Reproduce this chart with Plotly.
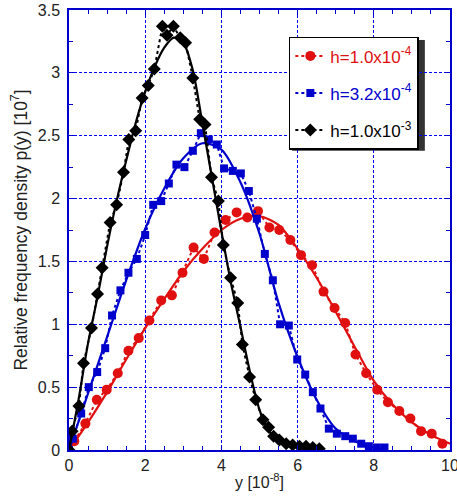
import plotly.graph_objects as go

# measured histograms (y in 1e-8, p in 1e7)
red_x = [0.14, 0.43, 0.73, 0.99, 1.28, 1.56, 1.83, 2.11, 2.42, 2.70, 2.98, 3.27, 3.54, 3.82, 4.11, 4.40, 4.68,
         4.96, 5.26, 5.52, 5.81, 6.09, 6.38, 6.68, 6.97, 7.25, 7.52, 7.80, 8.09, 8.37, 8.67, 8.96, 9.24, 9.52, 9.80]
red_y = [0.07, 0.21, 0.40, 0.48, 0.61, 0.79, 0.89, 1.03, 1.19, 1.23, 1.41, 1.61, 1.52, 1.73, 1.83, 1.89, 1.85,
         1.90, 1.77, 1.75, 1.67, 1.55, 1.47, 1.26, 1.13, 1.01, 0.76, 0.61, 0.48, 0.38, 0.31, 0.25, 0.15, 0.13, 0.05]

blue_x = [0.0, 0.10, 0.32, 0.52, 0.74, 0.95, 1.13, 1.35, 1.56, 1.78, 2.0, 2.21, 2.42, 2.62, 2.82, 3.03, 3.25,
          3.46, 3.67, 3.88, 4.07, 4.30, 4.51, 4.72, 4.93, 5.14, 5.35, 5.54, 5.77, 5.99, 6.20, 6.40, 6.60, 6.82,
          7.03, 7.25, 7.45, 7.67, 7.87, 8.08, 8.28]
blue_y = [0.0, 0.09, 0.29, 0.50, 0.62, 0.81, 1.07, 1.27, 1.41, 1.52, 1.71, 1.95, 1.98, 2.12, 2.27, 2.25, 2.38,
          2.52, 2.47, 2.43, 2.24, 2.22, 2.20, 2.06, 1.84, 1.56, 1.35, 1.00, 0.99, 0.72, 0.60, 0.46, 0.33, 0.17,
          0.13, 0.11, 0.09, 0.05, 0.03, 0.02, 0.02]

black_x = [0.0, 0.08, 0.26, 0.38, 0.59, 0.75, 0.87, 1.08, 1.25, 1.43, 1.57, 1.75, 1.92, 2.08, 2.24, 2.45, 2.57,
           2.74, 2.92, 3.06, 3.25, 3.43, 3.57, 3.74, 3.92, 4.05, 4.24, 4.43, 4.55, 4.74, 4.90, 5.09, 5.24, 5.37,
           5.52, 5.70, 5.87, 6.05, 6.22, 6.40, 6.57]
black_y = [0.0, 0.15, 0.35, 0.69, 0.97, 1.24, 1.45, 1.81, 1.95, 2.21, 2.47, 2.54, 2.80, 2.90, 3.03, 3.37, 3.30,
           3.37, 3.28, 3.24, 2.96, 2.63, 2.59, 2.17, 1.98, 1.63, 1.37, 1.17, 0.84, 0.58, 0.40, 0.24, 0.18, 0.11,
           0.08, 0.05, 0.04, 0.03, 0.03, 0.02, 0.01]

# fitted curves
red_fit_x = [0, 0.5, 1, 1.5, 2, 2.5, 3, 3.5, 4, 4.5, 5, 5.5, 6, 6.5, 7, 7.5, 8, 8.5, 9, 9.5, 10]
red_fit_y = [0, 0.22, 0.46, 0.72, 0.97, 1.2, 1.42, 1.6, 1.75, 1.84, 1.86, 1.79, 1.6, 1.37, 1.1, 0.82, 0.55,
             0.36, 0.22, 0.12, 0.05]
blue_fit_x = [0, 0.5, 1, 1.5, 2, 2.5, 3, 3.5, 4, 4.5, 5, 5.5, 6, 6.5, 7, 7.5, 8, 8.3]
blue_fit_y = [0, 0.45, 0.9, 1.35, 1.76, 2.08, 2.32, 2.44, 2.39, 2.13, 1.72, 1.17, 0.74, 0.4, 0.17, 0.07, 0.02, 0.01]
black_fit_x = [0, 0.25, 0.5, 0.75, 1, 1.25, 1.5, 1.75, 2, 2.25, 2.5, 2.75, 3, 3.25, 3.5, 3.75, 4, 4.25, 4.5,
               4.75, 5, 5.25, 5.5, 6, 6.5]
black_fit_y = [0, 0.4, 0.85, 1.22, 1.62, 1.98, 2.3, 2.6, 2.85, 3.05, 3.2, 3.28, 3.24, 3.02, 2.6, 2.17, 1.74,
               1.33, 0.98, 0.62, 0.32, 0.15, 0.07, 0.02, 0.0]

labels = ["h=1.0x10<sup>-4</sup>", "h=3.2x10<sup>-4</sup>", "h=1.0x10<sup>-3</sup>"]
RED = "#e01010"
BLUE = "#0000cc"
BLACK = "#000000"
FONT = "Liberation Sans, Arial"

fig = go.Figure()

series = [
    (red_x, red_y, red_fit_x, red_fit_y, RED, "circle", 10, labels[0]),
    (blue_x, blue_y, blue_fit_x, blue_fit_y, BLUE, "square", 8, labels[1]),
    (black_x, black_y, black_fit_x, black_fit_y, BLACK, "diamond", 10, labels[2]),
]

for i, (x, y, fx, fy, col, sym, sz, lab) in enumerate(series):
    fig.add_trace(go.Scatter(
        x=fx, y=fy, mode="lines", line=dict(color=col, width=2.2, shape="spline", smoothing=0.8),
        showlegend=False, hoverinfo="skip",
    ))
    fig.add_trace(go.Scatter(
        x=x, y=y, mode="lines+markers",
        line=dict(color=col, width=2, dash="dot"),
        marker=dict(color=col, symbol=sym, size=sz, line=dict(width=0)),
        name='<span style="color:%s">%s</span>' % (col, lab),
        legendgroup=str(i),
    ))

axis_common = dict(
    showline=True, linecolor=BLUE, linewidth=1.5, mirror="allticks",
    ticks="inside", tickcolor=BLUE, ticklen=5,
    showgrid=True, gridcolor="#0000ff", griddash="3px,2px", gridwidth=1.3,
    zeroline=False, automargin=False, ticklabeloverflow="allow",
    tickfont=dict(family=FONT, size=16, color="#222"),
)

fig.update_xaxes(
    range=[0, 10], dtick=2, tick0=0,
    minor=dict(dtick=0.5, ticks="inside", ticklen=4, tickcolor=BLUE, showgrid=False),
    title=dict(text="y [10<sup>-8</sup>]", font=dict(family=FONT, size=16, color="#222"), standoff=4),
    **axis_common,
)
fig.update_yaxes(
    range=[0, 3.5], dtick=0.5, tick0=0, ticklabelstandoff=4,
    minor=dict(dtick=0.25, ticks="inside", ticklen=4, tickcolor=BLUE, showgrid=False),
    title=dict(text="Relative frequency density p(y) [10<sup>7</sup>]",
               font=dict(family=FONT, size=17.5, color="#222"), standoff=6),
    **axis_common,
)

# legend shadow
fig.add_shape(type="rect", xref="paper", yref="paper",
              x0=0.585, x1=0.934, y0=0.680, y1=0.932,
              fillcolor="#333", line=dict(width=0), layer="below")

fig.update_layout(
    width=457, height=496,
    margin=dict(l=69, r=7, t=10, b=46),
    plot_bgcolor="white", paper_bgcolor="white",
    legend=dict(
        x=0.577, y=0.939, xanchor="left", yanchor="top",
        bgcolor="white", bordercolor="black", borderwidth=1.5,
        font=dict(family=FONT, size=17),
        tracegroupgap=12, traceorder="grouped",
    ),
)

# drop the default page margin so the figure sits at the window corner
fig.write_html("out.html", config={"displayModeBar": False},
               post_script="document.body.style.margin='0px';")
